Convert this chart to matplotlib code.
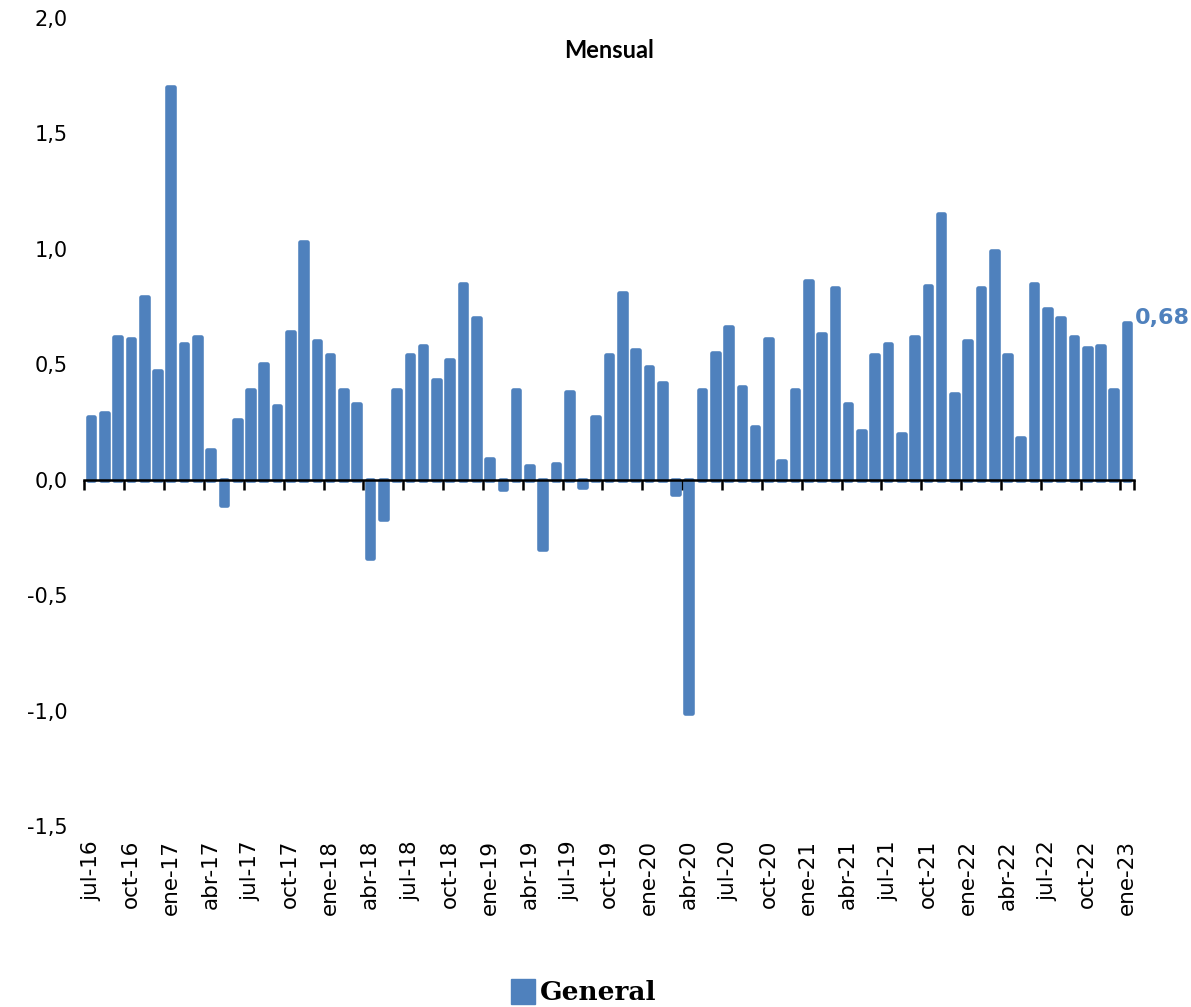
import matplotlib
matplotlib.use("Agg")
import matplotlib.pyplot as plt
from matplotlib.patches import Patch

# monthly values, jul-16 .. ene-23
months = ["ene", "feb", "mar", "abr", "may", "jun", "jul", "ago", "sep", "oct", "nov", "dic"]
dates = [f"{months[(6 + i) % 12]}-{16 + (6 + i) // 12}" for i in range(79)]

values = [
    0.27, 0.29, 0.62, 0.61, 0.79, 0.47, 1.70, 0.59, 0.62, 0.13,
    -0.11, 0.26, 0.39, 0.50, 0.32, 0.64, 1.03, 0.60, 0.54, 0.39,
    0.33, -0.34, -0.17, 0.39, 0.54, 0.58, 0.43, 0.52, 0.85, 0.70,
    0.09, -0.04, 0.39, 0.06, -0.30, 0.07, 0.38, -0.03, 0.27, 0.54,
    0.81, 0.56, 0.49, 0.42, -0.06, -1.01, 0.39, 0.55, 0.66, 0.40,
    0.23, 0.61, 0.08, 0.39, 0.86, 0.63, 0.83, 0.33, 0.21, 0.54,
    0.59, 0.20, 0.62, 0.84, 1.15, 0.37, 0.60, 0.83, 0.99, 0.54,
    0.18, 0.85, 0.74, 0.70, 0.62, 0.57, 0.58, 0.39, 0.68,
]

yticks = [-1.5, -1.0, -0.5, 0.0, 0.5, 1.0, 1.5, 2.0]
color = "#4F81BD"

fig = plt.figure(figsize=(11.91, 10.07), dpi=100)
ax = fig.add_axes([0.0709, 0.1797, 0.881, 0.8024])

x = list(range(len(values)))
ax.bar(x, values, width=0.5, color=color, edgecolor=color,
       linewidth=3.3, joinstyle="round", zorder=2)

ax.set_xlim(-0.5, len(values) - 0.5)
ax.set_ylim(-1.5, 2.0)
ax.set_yticks(yticks)
ax.set_yticklabels([f"{v:.1f}".replace(".", ",") for v in yticks], fontsize=15)
ax.tick_params(axis="y", length=0, pad=12)

for s in ["left", "right", "top"]:
    ax.spines[s].set_visible(False)
ax.spines["bottom"].set_position(("data", 0))
ax.spines["bottom"].set_linewidth(1.8)
ax.spines["bottom"].set_zorder(5)

# tick marks at category boundaries, every 3 months
ax.set_xticks([i - 0.5 for i in x[::3]] + [len(values) - 0.5])
ax.set_xticklabels([])
ax.tick_params(axis="x", length=7, width=1.8, direction="out")

# date labels under the plot area
sec = ax.secondary_xaxis(0)
sec.set_xticks(x[::3])
sec.set_xticklabels(dates[::3], rotation=90, fontsize=15.5)
sec.tick_params(length=0, pad=10)
sec.spines["bottom"].set_visible(False)

ax.set_title("Mensual", fontsize=17, fontweight="bold", family="Lato", y=0.94)

ax.text(x[-1] + 0.55, values[-1] + 0.02, f"{values[-1]:.2f}".replace(".", ","),
        color=color, fontsize=16, fontweight="bold", va="center", ha="left")

fig.legend(handles=[Patch(facecolor=color, edgecolor=color, label="General")],
           loc="lower center", bbox_to_anchor=(0.49, -0.022), frameon=False,
           prop={"family": "DejaVu Serif", "weight": "bold", "size": 19},
           handlelength=0.9, handleheight=1.1, handletextpad=0.2)

fig.savefig("out.png", dpi=100)
